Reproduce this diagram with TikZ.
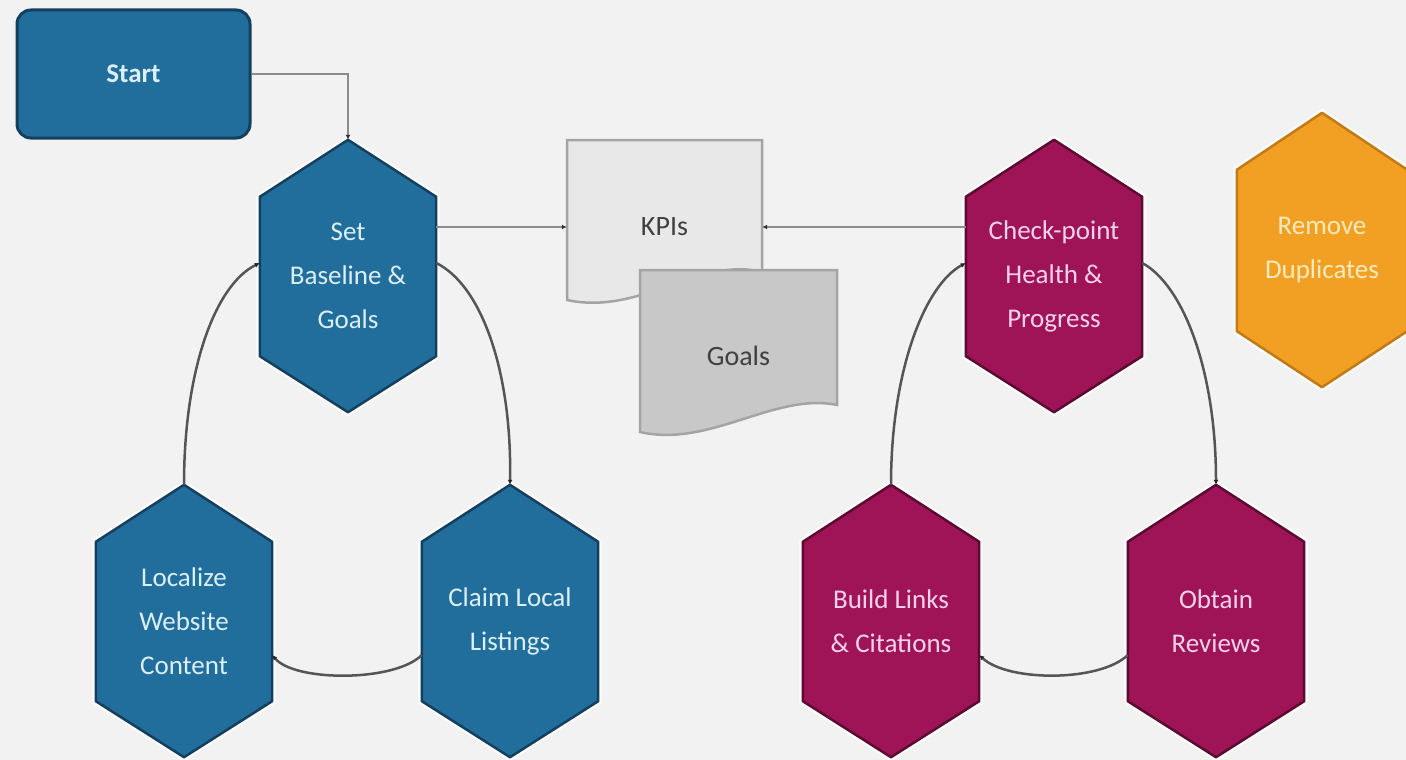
\documentclass[tikz,border=0pt]{standalone}
\usepackage{fontspec}
\setmainfont{Carlito}
\usetikzlibrary{arrows.meta,calc}
\pgfdeclarelayer{bg}\pgfdeclarelayer{mid}
\pgfsetlayers{bg,mid,main}
\definecolor{bgc}{HTML}{F2F2F2}
\definecolor{blu}{HTML}{216E9C}
\definecolor{bluD}{HTML}{143F5E}
\definecolor{bluT}{HTML}{DCEFFC}
\definecolor{mag}{HTML}{9E1456}
\definecolor{magD}{HTML}{5C0A30}
\definecolor{magT}{HTML}{FAD2EC}
\definecolor{org}{HTML}{F2A024}
\definecolor{orgD}{HTML}{C27A14}
\definecolor{orgT}{HTML}{FFEBBE}
\definecolor{docA}{HTML}{E8E8E8}
\definecolor{docB}{HTML}{C8C8C8}
\definecolor{docD}{HTML}{A4A4A4}
\definecolor{lnc}{HTML}{8C8C8C}
\definecolor{arcc}{HTML}{555555}
\newcommand\hexshape[3]{\begin{pgfonlayer}{mid}
\filldraw[fill=#2,draw=#3,line width=2.5pt,line join=round,preaction={draw=white,line width=7pt,opacity=0.8}] (#1.north) -- ([yshift=-57pt]#1.north east) -- ([yshift=56pt]#1.south east) -- (#1.south) -- ([yshift=56pt]#1.south west) -- ([yshift=-57pt]#1.north west) -- cycle;
\end{pgfonlayer}}
\tikzset{
  hexn/.style={rectangle, minimum width=176pt, minimum height=272pt, inner sep=0pt, align=center, font=\fontsize{27}{44}\selectfont},
  startbox/.style={rectangle, rounded corners=14pt, minimum width=233pt, minimum height=128pt, fill=blu, draw=bluD, line width=3pt, text=bluT, font=\fontsize{27}{32}\selectfont\bfseries},
  docn/.style={rectangle, inner sep=0pt, minimum height=10pt, text=black!75, font=\fontsize{28}{32}\selectfont},
  conn/.style={draw=lnc, line width=2.5pt, -{Latex[length=5pt,width=5pt,color=black!80]}},
  arcl/.style={draw=arcc, line width=2.5pt, -{Latex[length=5pt,width=5pt,color=black!85]}},
  docshape/.style={draw=docD, line width=2.5pt}
}
\begin{document}
\begin{tikzpicture}[x=1pt,y=-1pt]
\useasboundingbox (0,0) rectangle (1406,760);
\begin{pgfonlayer}{bg}
\fill[bgc] (0,0) rectangle (1406,760);
\end{pgfonlayer}
% nodes
\node[startbox] (start) at (133.5,74) {Start};
\node[hexn, text=bluT] (set) at (348,276) {Set\\Baseline \&\\Goals};
\node[hexn, text=bluT] (loc) at (184,621) {Localize\\Website\\Content};
\node[hexn, text=bluT] (claim) at (510,621) {Claim Local\\Listings};
\node[hexn, text=magT] (check) at (1054,276) {Check-point\\Health \&\\Progress};
\node[hexn, text=magT] (build) at (891,621) {Build Links\\\& Citations};
\node[hexn, text=magT] (obtain) at (1216,621) {Obtain\\Reviews};
\node[hexn, text=orgT, minimum width=170pt, minimum height=274pt] (remove) at (1322,250) {Remove\\Duplicates};
\node[docn, minimum width=195pt] (kpi) at (664.5,227) {KPIs};
\node[docn, minimum width=197pt] (goals) at (738.5,356) {Goals};
% hexagon shapes
\hexshape{set}{blu}{bluD}
\hexshape{loc}{blu}{bluD}
\hexshape{claim}{blu}{bluD}
\hexshape{check}{mag}{magD}
\hexshape{build}{mag}{magD}
\hexshape{obtain}{mag}{magD}
\hexshape{remove}{org}{orgD}
% documents
\begin{pgfonlayer}{mid}
\filldraw[docshape, fill=docA] (567,140) -- (762,140) -- (762,272) .. controls (700,256) and (640,316) .. (567,300) -- cycle;
\filldraw[docshape, fill=docB] (640,270) -- (837,270) -- (837,405) .. controls (775,392) and (710,448) .. (640,432) -- cycle;
\end{pgfonlayer}
% connectors
\draw[conn] (start.east) -| (set.north);
\draw[conn] ([yshift=49pt]set.east) -- ([yshift=49pt]set.east -| kpi.west);
\draw[conn] ([yshift=49pt]check.west) -- ([yshift=49pt]check.west -| kpi.east);
% left cycle
\draw[arcl] (loc.north) .. controls (184,370) and (215,285) .. ([yshift=13pt]set.west);
\draw[arcl] ([yshift=13pt]set.east) .. controls (481,285) and (512,370) .. (claim.north);
\draw[arcl] ([yshift=-34pt]claim.west) .. controls (395,682) and (295,682) .. ([yshift=-34pt]loc.east);
% right cycle
\draw[arcl] (build.north) .. controls (891,370) and (925,285) .. ([yshift=13pt]check.west);
\draw[arcl] ([yshift=13pt]check.east) .. controls (1183,285) and (1216,370) .. (obtain.north);
\draw[arcl] ([yshift=-34pt]obtain.west) .. controls (1100,682) and (1008,682) .. ([yshift=-34pt]build.east);
\end{tikzpicture}
\end{document}
